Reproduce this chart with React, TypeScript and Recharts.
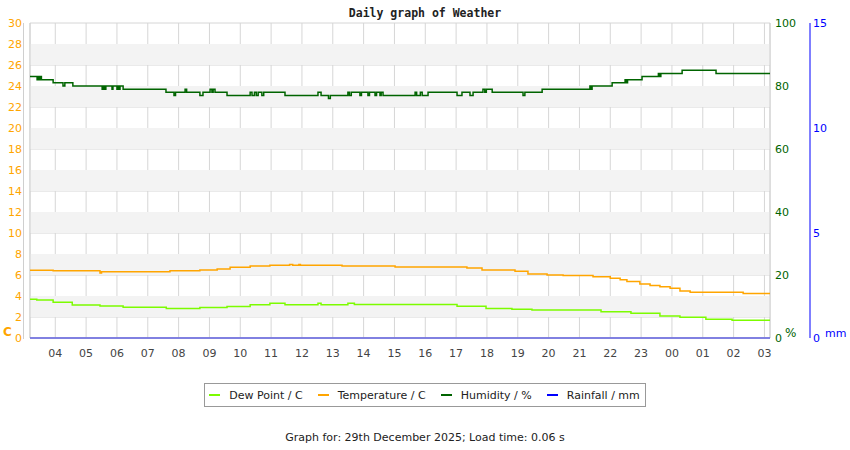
import { CartesianGrid, Legend, Line, LineChart, ReferenceArea, ReferenceLine, XAxis, YAxis } from "recharts";

const startHour = 3.18;
const endHour = 27.18;
const hourTicks = [4, 5, 6, 7, 8, 9, 10, 11, 12, 13, 14, 15, 16, 17, 18, 19, 20, 21, 22, 23, 24, 25, 26, 27];
const tempTicks = [0, 2, 4, 6, 8, 10, 12, 14, 16, 18, 20, 22, 24, 26, 28, 30];
const humTicks = [0, 20, 40, 60, 80, 100];
const rainTicks = [0, 5, 10, 15];
// shaded horizontal bands (temperature units)
const bandStarts = [2, 6, 10, 14, 18, 22, 26];
const legendOrder = ["Dew Point / C", "Temperature / C", "Humidity / %", "Rainfall / mm"];

// readings, time in hours since midnight of the 28th
const humTimes = [
  3.18, 3.41, 3.45, 3.49, 3.52, 3.55, 3.93, 4.25, 4.31, 4.57, 5.52, 5.56, 5.6, 5.64, 5.84, 5.87, 6.0, 6.03, 6.07,
  6.1, 6.2, 7.59, 7.85, 7.9, 8.21, 8.26, 8.69, 8.79, 9.02, 9.08, 9.12, 9.18, 9.57, 10.32, 10.38, 10.46, 10.52,
  10.58, 10.7, 10.76, 11.45, 12.52, 12.62, 12.86, 12.92, 13.49, 13.54, 13.6, 13.88, 13.93, 14.14, 14.19, 14.37,
  14.42, 14.53, 14.57, 14.63, 15.67, 15.72, 15.84, 15.9, 16.09, 17.03, 17.19, 17.45, 17.55, 17.87, 17.93, 17.98,
  18.17, 19.17, 19.23, 19.79, 21.34, 21.37, 21.41, 22.06, 22.48, 22.52, 22.56, 23.03, 23.56, 23.6, 23.64, 24.33,
  25.43, 27.18,
];
const humValues = [
  83, 82, 83, 82, 83, 82, 81, 80, 81, 80, 79, 80, 79, 80, 79, 80, 79, 80, 79,
  80, 79, 78, 77, 78, 79, 78, 77, 78, 79, 78, 79, 78, 77, 78, 77, 78, 77,
  78, 77, 78, 77, 78, 77, 76, 77, 78, 77, 78, 77, 78, 77, 78, 77,
  78, 77, 78, 77, 78, 77, 78, 77, 78, 77, 78, 77, 78, 79, 78, 79,
  78, 77, 78, 79, 80, 79, 80, 81, 82, 81, 82, 83, 84, 83, 84, 85,
  84, 84,
];

const tempTimes = [
  3.18, 3.93, 5.45, 5.5, 7.72, 8.69, 9.25, 9.67, 10.32, 10.96, 11.6, 11.7, 11.9, 11.95, 13.3, 15.02, 17.35, 17.84,
  18.91, 19.33, 19.95, 20.47, 21.44, 22.0, 22.32, 22.54, 22.96, 23.29, 23.61, 23.94, 24.26, 24.59, 26.31, 27.18,
];
const tempValues = [
  6.45, 6.4, 6.2, 6.3, 6.4, 6.48, 6.57, 6.73, 6.86, 6.92, 7.0, 6.92, 7.0, 6.92, 6.86, 6.76, 6.67, 6.48,
  6.35, 6.1, 6.0, 5.95, 5.84, 5.68, 5.55, 5.37, 5.14, 5.0, 4.89, 4.73, 4.48, 4.35, 4.25, 4.25,
];

const dewTimes = [
  3.18, 3.4, 3.93, 4.55, 5.45, 6.2, 7.6, 8.69, 9.57, 10.32, 10.96, 11.45, 12.52, 12.62, 13.49, 13.7, 17.03, 17.97,
  18.81, 19.46, 21.7, 22.67, 23.61, 24.26, 25.1, 25.95, 27.18,
];
const dewValues = [
  3.7, 3.62, 3.4, 3.14, 3.05, 2.92, 2.8, 2.9, 3.0, 3.17, 3.3, 3.17, 3.3, 3.17, 3.3, 3.2, 3.02, 2.82,
  2.75, 2.67, 2.5, 2.35, 2.1, 1.97, 1.78, 1.68, 1.68,
];

const rainTimes = [3.18, 27.18];
const rainValues = [0, 0];

const toPoints = (times: number[], values: number[]) => times.map((t, i) => ({ t, v: values[i] }));

const font = "DejaVu Sans";

function LegendBox({ payload }: any) {
  const items = [...(payload || [])].sort(
    (a: any, b: any) => legendOrder.indexOf(a.value) - legendOrder.indexOf(b.value)
  );
  return (
    <div style={{ display: "flex", justifyContent: "center" }}>
      <div
        style={{
          display: "inline-flex",
          alignItems: "center",
          height: 22,
          padding: "0 5px 0 4px",
          border: "1px solid #999",
          fontFamily: font,
          fontSize: 11,
          color: "#222",
        }}
      >
        {items.map((p: any, i: number) => (
          <span key={p.value} style={{ display: "inline-flex", alignItems: "center", marginLeft: i ? 15 : 0 }}>
            <span style={{ display: "inline-block", width: 11, height: 2, background: p.color, marginRight: 9 }} />
            {p.value}
          </span>
        ))}
      </div>
    </div>
  );
}

const overlay = (style: React.CSSProperties) => ({ position: "absolute" as const, fontFamily: font, ...style });

export default function App() {
  return (
    <div style={{ position: "absolute", left: 0, top: 0, width: 850, height: 450, background: "#fff" }}>
      <LineChart width={850} height={450} margin={{ top: 23, right: 10, bottom: 82, left: 0 }}>
        {bandStarts.map((b) => (
          <ReferenceArea
            key={b}
            yAxisId="temp"
            y1={b}
            y2={b + 2}
            fill="#f3f3f3"
            fillOpacity={1}
            stroke="none"
          />
        ))}
        <CartesianGrid yAxisId="temp" stroke="#d6d6d6" />
        <XAxis
          dataKey="t"
          type="number"
          domain={[startHour, endHour]}
          allowDataOverflow
          ticks={hourTicks}
          tickFormatter={(h: number) => String(h % 24).padStart(2, "0")}
          tick={{ fill: "#444", fontSize: 11, fontFamily: font }}
          tickSize={0}
          tickMargin={11}
          height={30}
          stroke="#c8c8c8"
        />
        <YAxis
          yAxisId="temp"
          domain={[0, 30]}
          ticks={tempTicks}
          width={30}
          axisLine={false}
          tickSize={0}
          tickMargin={8}
          tick={{ fill: "#ffa500", fontSize: 11, fontFamily: font }}
        />
        <YAxis
          yAxisId="hum"
          orientation="right"
          domain={[0, 100]}
          ticks={humTicks}
          width={40}
          axisLine={false}
          tickSize={0}
          tickMargin={5}
          tick={{ fill: "#006400", fontSize: 11, fontFamily: font }}
        />
        <YAxis
          yAxisId="rain"
          orientation="right"
          domain={[0, 15]}
          ticks={rainTicks}
          width={30}
          stroke="#0000ff"
          tickSize={0}
          tickMargin={3}
          tick={{ fill: "#0000ff", fontSize: 11, fontFamily: font }}
        />
        <ReferenceLine yAxisId="temp" x={startHour} stroke="#cfcfcf" />
        <ReferenceLine yAxisId="temp" x={endHour} stroke="#cfcfcf" />
        <Line
          yAxisId="temp"
          data={toPoints(dewTimes, dewValues)}
          dataKey="v"
          name="Dew Point / C"
          type="stepAfter"
          stroke="#7cfc00"
          strokeWidth={1.5}
          dot={false}
          activeDot={false}
          isAnimationActive={false}
        />
        <Line
          yAxisId="temp"
          data={toPoints(tempTimes, tempValues)}
          dataKey="v"
          name="Temperature / C"
          type="stepAfter"
          stroke="#ffa500"
          strokeWidth={1.5}
          dot={false}
          activeDot={false}
          isAnimationActive={false}
        />
        <Line
          yAxisId="hum"
          data={toPoints(humTimes, humValues)}
          dataKey="v"
          name="Humidity / %"
          type="stepAfter"
          stroke="#006400"
          strokeWidth={1.5}
          dot={false}
          activeDot={false}
          isAnimationActive={false}
        />
        <Line
          yAxisId="rain"
          data={toPoints(rainTimes, rainValues)}
          dataKey="v"
          name="Rainfall / mm"
          type="stepAfter"
          stroke="#0000ff"
          strokeWidth={1.5}
          dot={false}
          activeDot={false}
          isAnimationActive={false}
        />
        <Legend
          verticalAlign="middle"
          align="center"
          layout="horizontal"
          content={<LegendBox />}
          wrapperStyle={{ left: 0, top: 383, width: 850 }}
        />
      </LineChart>
      <div
        style={overlay({
          left: 0,
          top: 6,
          width: 850,
          textAlign: "center",
          fontFamily: "DejaVu Sans Mono",
          fontWeight: "bold",
          fontSize: 11.5,
          color: "#222",
        })}
      >
        Daily graph of Weather
      </div>
      <div style={overlay({ left: 23, top: 23, width: 1, height: 316, background: "#cfcfcf" })} />
      <div style={overlay({ left: 3, top: 325, fontSize: 12, fontWeight: "bold", color: "#ffa500" })}>C</div>
      <div style={overlay({ left: 785, top: 326, fontSize: 12, color: "#006400" })}>%</div>
      <div style={overlay({ left: 825, top: 327, fontSize: 11, color: "#0000ff" })}>mm</div>
      <div style={overlay({ left: 0, top: 431, width: 850, textAlign: "center", fontSize: 11, color: "#222" })}>
        Graph for: 29th December 2025; Load time: 0.06 s
      </div>
    </div>
  );
}
